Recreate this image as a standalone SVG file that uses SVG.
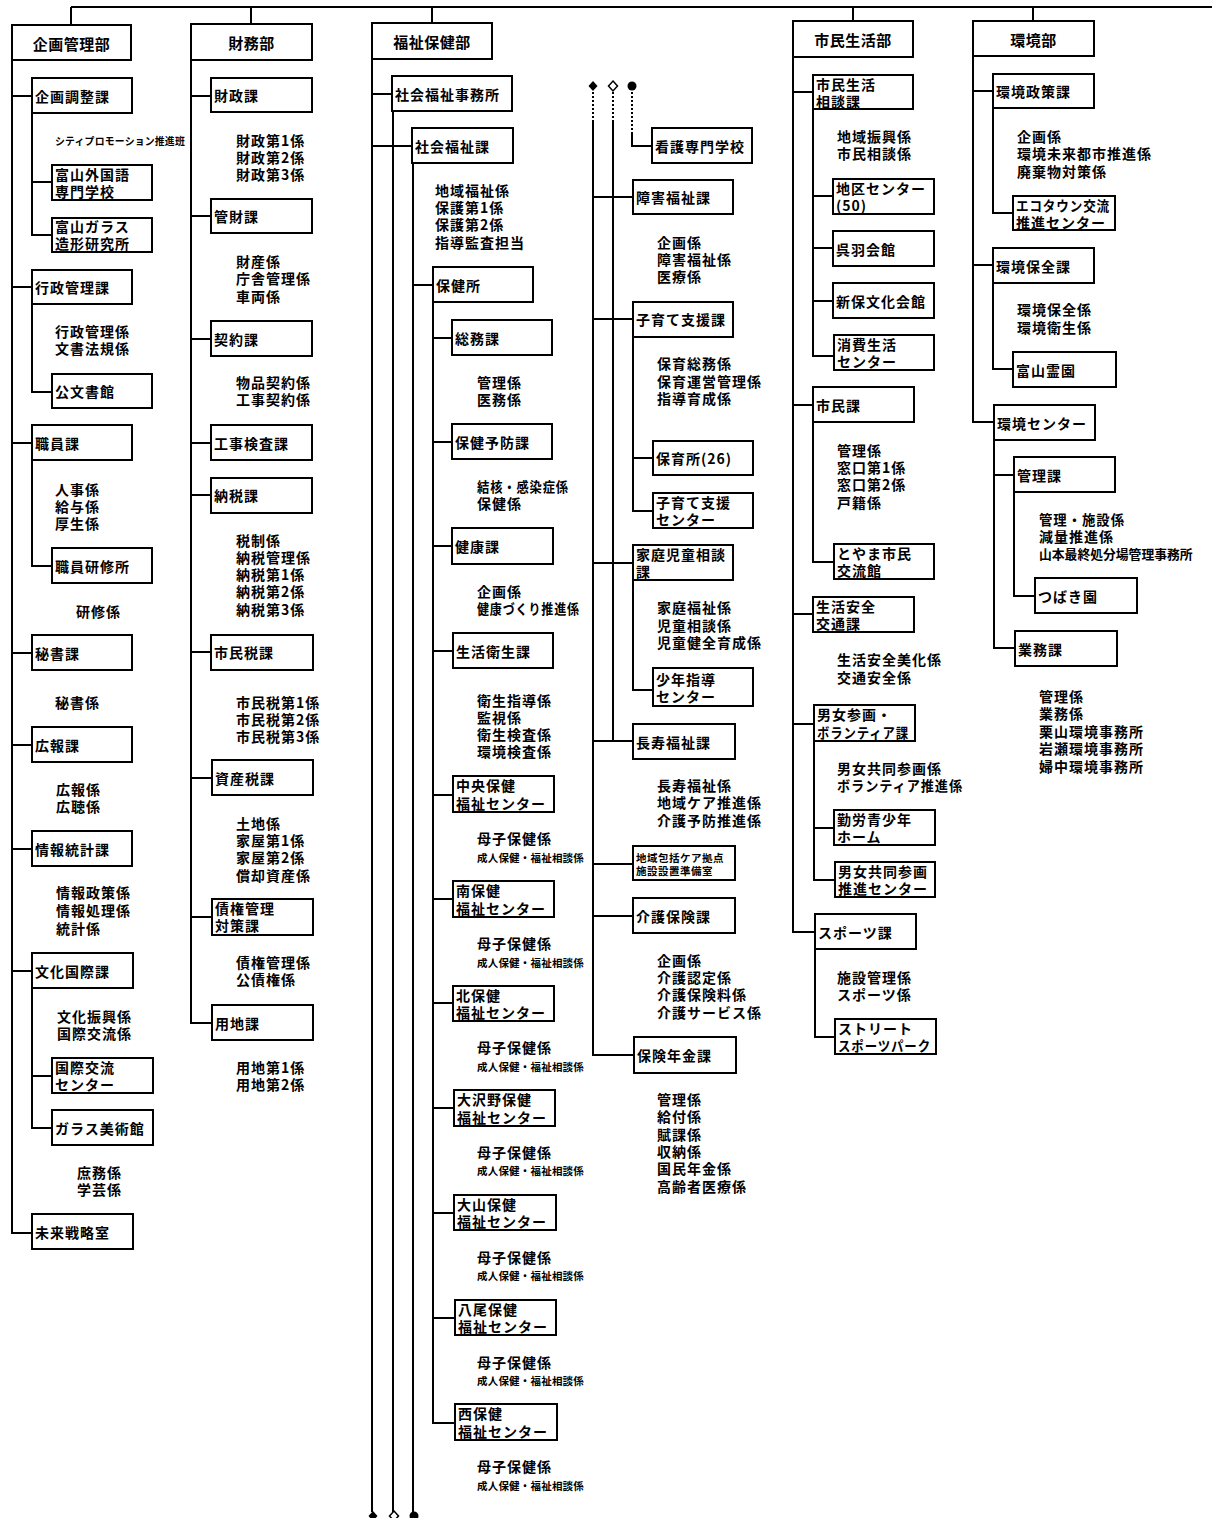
<svg xmlns="http://www.w3.org/2000/svg" width="1212" height="1518" viewBox="0 0 1212 1518">
<style>
.b{fill:#fff;stroke:#000;stroke-width:2}
.c{fill:none;stroke:#000;stroke-width:2}
.d{fill:none;stroke:#000;stroke-width:2;stroke-dasharray:2 2}
text{font-family:"Noto Sans CJK JP","Noto Sans CJK SC",sans-serif;font-weight:bold;font-size:14px;letter-spacing:1px;fill:#000}
text,tspan{dominant-baseline:central}
.m{text-anchor:middle;font-size:15px;letter-spacing:0.5px}
.s{font-size:10.5px;letter-spacing:0.2px}
.k{font-size:10.5px;letter-spacing:0.5px}
.q{font-size:12.8px;letter-spacing:0}
</style>
<rect width="1212" height="1518" fill="#fff"/>
<g id="connectors">
<path class="c" d="M71,7 H1212 M71,7 V25 M251,7 V24 M432,7 V23 M853,7 V21 M1033,7 V21"/>
<path class="c" d="M12,60 V1233 H32 M12,96 H32 M12,287 H32 M12,443 H32 M12,653 H32 M12,745 H32 M12,849 H32 M12,971 H32 M32,113 V235 H52 M32,182 H52 M32,304 V392 H52 M32,460 V566 H52 M32,988 V1128 H52 M32,1076 H52"/>
<path class="c" d="M191,60 V1023 H212 M191,96 H211 M191,216 H211 M191,339 H211 M191,443 H211 M191,495 H211 M191,652 H211 M191,778 H212 M191,917 H212"/>
<path class="c" d="M372,59 V1512 M372,94 H392 M372,146 H412 M393,111 V1512 M413,163 V1512 M413,285 H433 M433,302 V1423 H455 M433,338 H452 M433,442 H452 M433,546 H452 M433,651 H453 M433,795 H453 M433,899 H453 M433,1003 H453 M433,1108 H454 M433,1213 H454 M433,1318 H455"/>
<path class="d" d="M593,92 V120 M613,92 V120 M632,92 V132"/>
<path class="c" d="M593,120 V1055 H634 M613,120 V741 M632,132 V146 H652 M593,197 H633 M593,319 H633 M593,563 H633 M593,741 H633 M593,864 H633 M593,916 H633 M633,337 V511 H653 M633,458 H653 M633,580 V690 H653"/>
<path class="c" d="M793,57 V932 H815 M793,92 H813 M793,405 H813 M793,614 H813 M793,724 H814 M813,109 V356 H834 M813,196 H833 M813,248 H833 M813,301 H833 M813,422 V562 H834 M814,741 V880 H835 M814,828 H834 M815,949 V1037 H835"/>
<path class="c" d="M973,56 V422 H994 M973,91 H993 M973,265 H993 M993,108 V213 H1013 M993,283 V369 H1013 M994,440 V648 H1015 M994,475 H1014 M1014,492 V596 H1035"/>
<polygon points="593,81 597.5,86 593,91 588.5,86" fill="#000"/>
<polygon points="613,81 617.5,86 613,91 608.5,86" fill="#fff" stroke="#000" stroke-width="1.5"/>
<circle cx="632" cy="86" r="4.5" fill="#000"/>
<polygon points="373,1511 377.5,1516 373,1521 368.5,1516" fill="#000"/>
<polygon points="394,1511 398.5,1516 394,1521 389.5,1516" fill="#fff" stroke="#000" stroke-width="1.5"/>
<circle cx="414" cy="1516" r="4.5" fill="#000"/>
</g>

<!-- 企画管理部 -->
<g id="kikaku-kanri"><rect class="b" x="12" y="25" width="119" height="35"/><text class="m" x="71.5" y="43">企画管理部</text></g>
<g id="kikaku-chosei"><rect class="b" x="32" y="78" width="100" height="35"/><text x="35" y="96">企画調整課</text><text class="s" x="55" y="140" textLength="130" lengthAdjust="spacingAndGlyphs">シティプロモーション推進班</text></g>
<g id="gaikokugo"><rect class="b" x="52" y="165" width="100" height="35"/><text><tspan x="55" y="174">富山外国語</tspan><tspan x="55" y="191">専門学校</tspan></text></g>
<g id="glass-kenkyu"><rect class="b" x="52" y="218" width="100" height="34"/><text><tspan x="55" y="226">富山ガラス</tspan><tspan x="55" y="243">造形研究所</tspan></text></g>
<g id="gyosei-kanri"><rect class="b" x="32" y="270" width="100" height="34"/><text x="35" y="287">行政管理課</text><text><tspan x="55" y="331">行政管理係</tspan><tspan x="55" y="348">文書法規係</tspan></text></g>
<g id="kobunshokan"><rect class="b" x="52" y="374" width="100" height="34"/><text x="55" y="391">公文書館</text></g>
<g id="shokuin"><rect class="b" x="32" y="425" width="100" height="35"/><text x="35" y="443">職員課</text><text><tspan x="55" y="489">人事係</tspan><tspan x="55" y="506">給与係</tspan><tspan x="55" y="523">厚生係</tspan></text></g>
<g id="kenshujo"><rect class="b" x="52" y="548" width="100" height="35"/><text x="55" y="566">職員研修所</text><text x="76" y="611">研修係</text></g>
<g id="hisho"><rect class="b" x="32" y="635" width="100" height="35"/><text x="35" y="653">秘書課</text><text x="55" y="702">秘書係</text></g>
<g id="koho"><rect class="b" x="32" y="727" width="100" height="35"/><text x="35" y="745">広報課</text><text><tspan x="56" y="789">広報係</tspan><tspan x="56" y="806">広聴係</tspan></text></g>
<g id="joho-tokei"><rect class="b" x="32" y="831" width="100" height="35"/><text x="35" y="849">情報統計課</text><text><tspan x="56" y="892">情報政策係</tspan><tspan x="56" y="910">情報処理係</tspan><tspan x="56" y="928">統計係</tspan></text></g>
<g id="bunka-kokusai"><rect class="b" x="32" y="953" width="101" height="35"/><text x="35" y="971">文化国際課</text><text><tspan x="57" y="1016">文化振興係</tspan><tspan x="57" y="1033">国際交流係</tspan></text></g>
<g id="kokusai-center"><rect class="b" x="52" y="1058" width="101" height="35"/><text><tspan x="55" y="1067">国際交流</tspan><tspan x="55" y="1084">センター</tspan></text></g>
<g id="glass-museum"><rect class="b" x="52" y="1110" width="101" height="35"/><text x="55" y="1128">ガラス美術館</text><text><tspan x="77" y="1172">庶務係</tspan><tspan x="77" y="1189">学芸係</tspan></text></g>
<g id="mirai-senryaku"><rect class="b" x="32" y="1214" width="101" height="35"/><text x="35" y="1232">未来戦略室</text></g>

<!-- 財務部 -->
<g id="zaimu"><rect class="b" x="191" y="24" width="121" height="36"/><text class="m" x="251.5" y="42">財務部</text></g>
<g id="zaisei"><rect class="b" x="211" y="78" width="101" height="34"/><text x="214" y="95">財政課</text><text><tspan x="236" y="140">財政第1係</tspan><tspan x="236" y="157">財政第2係</tspan><tspan x="236" y="174">財政第3係</tspan></text></g>
<g id="kanzai"><rect class="b" x="211" y="199" width="101" height="34"/><text x="214" y="216">管財課</text><text><tspan x="236" y="261">財産係</tspan><tspan x="236" y="278">庁舎管理係</tspan><tspan x="236" y="296">車両係</tspan></text></g>
<g id="keiyaku"><rect class="b" x="211" y="321" width="101" height="35"/><text x="214" y="339">契約課</text><text><tspan x="236" y="382">物品契約係</tspan><tspan x="236" y="399">工事契約係</tspan></text></g>
<g id="koji-kensa"><rect class="b" x="211" y="425" width="101" height="35"/><text x="214" y="443">工事検査課</text></g>
<g id="nozei"><rect class="b" x="211" y="478" width="101" height="35"/><text x="214" y="495">納税課</text><text><tspan x="236" y="540">税制係</tspan><tspan x="236" y="557">納税管理係</tspan><tspan x="236" y="574">納税第1係</tspan><tspan x="236" y="591">納税第2係</tspan><tspan x="236" y="609">納税第3係</tspan></text></g>
<g id="shiminzei"><rect class="b" x="211" y="635" width="102" height="35"/><text x="214" y="652">市民税課</text><text><tspan x="236" y="702">市民税第1係</tspan><tspan x="236" y="719">市民税第2係</tspan><tspan x="236" y="736">市民税第3係</tspan></text></g>
<g id="shisanzei"><rect class="b" x="212" y="760" width="101" height="35"/><text x="215" y="778">資産税課</text><text><tspan x="236" y="823">土地係</tspan><tspan x="236" y="840">家屋第1係</tspan><tspan x="236" y="857">家屋第2係</tspan><tspan x="236" y="875">償却資産係</tspan></text></g>
<g id="saiken"><rect class="b" x="212" y="899" width="101" height="36"/><text><tspan x="215" y="908">債権管理</tspan><tspan x="215" y="925">対策課</tspan></text><text><tspan x="236" y="962">債権管理係</tspan><tspan x="236" y="979">公債権係</tspan></text></g>
<g id="yochi"><rect class="b" x="212" y="1005" width="101" height="35"/><text x="215" y="1023">用地課</text><text><tspan x="236" y="1067">用地第1係</tspan><tspan x="236" y="1084">用地第2係</tspan></text></g>

<!-- 福祉保健部 -->
<g id="fukushi-hoken"><rect class="b" x="372" y="23" width="120" height="36"/><text class="m" x="432" y="41">福祉保健部</text></g>
<g id="shakai-jimusho"><rect class="b" x="392" y="76" width="120" height="35"/><text x="395" y="94">社会福祉事務所</text></g>
<g id="shakai-fukushi"><rect class="b" x="412" y="128" width="101" height="35"/><text x="415" y="146">社会福祉課</text><text><tspan x="435" y="190">地域福祉係</tspan><tspan x="435" y="207">保護第1係</tspan><tspan x="435" y="224">保護第2係</tspan><tspan x="435" y="242">指導監査担当</tspan></text></g>
<g id="hokenjo"><rect class="b" x="433" y="267" width="100" height="35"/><text x="436" y="285">保健所</text></g>
<g id="somu"><rect class="b" x="452" y="320" width="100" height="35"/><text x="455" y="338">総務課</text><text><tspan x="477" y="382">管理係</tspan><tspan x="477" y="399">医務係</tspan></text></g>
<g id="hoken-yobo"><rect class="b" x="452" y="424" width="100" height="35"/><text x="455" y="442">保健予防課</text><text><tspan x="477" y="486" textLength="92" lengthAdjust="spacingAndGlyphs">結核・感染症係</tspan><tspan x="477" y="503">保健係</tspan></text></g>
<g id="kenko"><rect class="b" x="452" y="528" width="101" height="36"/><text x="455" y="546">健康課</text><text><tspan x="477" y="591">企画係</tspan><tspan x="477" y="608" textLength="103" lengthAdjust="spacingAndGlyphs">健康づくり推進係</tspan></text></g>
<g id="seikatsu-eisei"><rect class="b" x="453" y="633" width="100" height="35"/><text x="456" y="651">生活衛生課</text><text><tspan x="477" y="700">衛生指導係</tspan><tspan x="477" y="717">監視係</tspan><tspan x="477" y="734">衛生検査係</tspan><tspan x="477" y="751">環境検査係</tspan></text></g>
<g id="chuo-center"><rect class="b" x="453" y="776" width="101" height="36"/><text><tspan x="456" y="785">中央保健</tspan><tspan x="456" y="803">福祉センター</tspan></text><text><tspan x="477" y="838">母子保健係</tspan><tspan class="s" x="477" y="857">成人保健・福祉相談係</tspan></text></g>
<g id="minami-center"><rect class="b" x="453" y="881" width="101" height="36"/><text><tspan x="456" y="890">南保健</tspan><tspan x="456" y="908">福祉センター</tspan></text><text><tspan x="477" y="943">母子保健係</tspan><tspan class="s" x="477" y="962">成人保健・福祉相談係</tspan></text></g>
<g id="kita-center"><rect class="b" x="453" y="986" width="101" height="35"/><text><tspan x="456" y="995">北保健</tspan><tspan x="456" y="1012">福祉センター</tspan></text><text><tspan x="477" y="1047">母子保健係</tspan><tspan class="s" x="477" y="1066">成人保健・福祉相談係</tspan></text></g>
<g id="osawano-center"><rect class="b" x="454" y="1090" width="101" height="36"/><text><tspan x="457" y="1099">大沢野保健</tspan><tspan x="457" y="1117">福祉センター</tspan></text><text><tspan x="477" y="1152">母子保健係</tspan><tspan class="s" x="477" y="1170">成人保健・福祉相談係</tspan></text></g>
<g id="oyama-center"><rect class="b" x="454" y="1195" width="102" height="35"/><text><tspan x="457" y="1204">大山保健</tspan><tspan x="457" y="1221">福祉センター</tspan></text><text><tspan x="477" y="1257">母子保健係</tspan><tspan class="s" x="477" y="1275">成人保健・福祉相談係</tspan></text></g>
<g id="yatsuo-center"><rect class="b" x="455" y="1300" width="101" height="35"/><text><tspan x="458" y="1309">八尾保健</tspan><tspan x="458" y="1326">福祉センター</tspan></text><text><tspan x="477" y="1362">母子保健係</tspan><tspan class="s" x="477" y="1380">成人保健・福祉相談係</tspan></text></g>
<g id="nishi-center"><rect class="b" x="455" y="1404" width="102" height="36"/><text><tspan x="458" y="1413">西保健</tspan><tspan x="458" y="1431">福祉センター</tspan></text><text><tspan x="477" y="1466">母子保健係</tspan><tspan class="s" x="477" y="1485">成人保健・福祉相談係</tspan></text></g>
<g id="kango"><rect class="b" x="652" y="128" width="100" height="35"/><text x="655" y="146">看護専門学校</text></g>
<g id="shogai"><rect class="b" x="633" y="180" width="100" height="34"/><text x="636" y="197">障害福祉課</text><text><tspan x="657" y="242">企画係</tspan><tspan x="657" y="259">障害福祉係</tspan><tspan x="657" y="276">医療係</tspan></text></g>
<g id="kosodate"><rect class="b" x="633" y="302" width="100" height="35"/><text x="636" y="319">子育て支援課</text><text><tspan x="657" y="363">保育総務係</tspan><tspan x="657" y="381">保育運営管理係</tspan><tspan x="657" y="398">指導育成係</tspan></text></g>
<g id="hoikusho"><rect class="b" x="653" y="441" width="100" height="34"/><text x="656" y="458">保育所(26)</text></g>
<g id="kosodate-center"><rect class="b" x="653" y="493" width="100" height="35"/><text><tspan x="656" y="502">子育て支援</tspan><tspan x="656" y="519">センター</tspan></text></g>
<g id="katei-jido"><rect class="b" x="633" y="545" width="100" height="35"/><text><tspan x="636" y="554">家庭児童相談</tspan><tspan x="636" y="571">課</tspan></text><text><tspan x="657" y="607">家庭福祉係</tspan><tspan x="657" y="625">児童相談係</tspan><tspan x="657" y="642">児童健全育成係</tspan></text></g>
<g id="shonen-center"><rect class="b" x="653" y="668" width="100" height="38"/><text><tspan x="656" y="679">少年指導</tspan><tspan x="656" y="696">センター</tspan></text></g>
<g id="choju"><rect class="b" x="633" y="724" width="102" height="35"/><text x="636" y="742">長寿福祉課</text><text><tspan x="657" y="785">長寿福祉係</tspan><tspan x="657" y="802">地域ケア推進係</tspan><tspan x="657" y="820">介護予防推進係</tspan></text></g>
<g id="chiiki-houkatsu"><rect class="b" x="633" y="846" width="102" height="34"/><text class="k"><tspan x="636" y="857">地域包括ケア拠点</tspan><tspan x="636" y="870">施設設置準備室</tspan></text></g>
<g id="kaigo"><rect class="b" x="633" y="898" width="102" height="35"/><text x="636" y="916">介護保険課</text><text><tspan x="657" y="960">企画係</tspan><tspan x="657" y="977">介護認定係</tspan><tspan x="657" y="994">介護保険料係</tspan><tspan x="657" y="1012">介護サービス係</tspan></text></g>
<g id="hoken-nenkin"><rect class="b" x="634" y="1037" width="102" height="36"/><text x="637" y="1055">保険年金課</text><text><tspan x="657" y="1099">管理係</tspan><tspan x="657" y="1116">給付係</tspan><tspan x="657" y="1134">賦課係</tspan><tspan x="657" y="1151">収納係</tspan><tspan x="657" y="1168">国民年金係</tspan><tspan x="657" y="1186">高齢者医療係</tspan></text></g>

<!-- 市民生活部 -->
<g id="shimin-seikatsu"><rect class="b" x="793" y="21" width="120" height="36"/><text class="m" x="853" y="39">市民生活部</text></g>
<g id="shimin-sodan"><rect class="b" x="813" y="75" width="100" height="34"/><text><tspan x="816" y="84">市民生活</tspan><tspan x="816" y="101">相談課</tspan></text><text><tspan x="837" y="136">地域振興係</tspan><tspan x="837" y="153">市民相談係</tspan></text></g>
<g id="chiku-center"><rect class="b" x="833" y="179" width="101" height="35"/><text><tspan x="836" y="188">地区センター</tspan><tspan x="836" y="205">(50)</tspan></text></g>
<g id="kureha"><rect class="b" x="833" y="231" width="101" height="35"/><text x="836" y="249">呉羽会館</text></g>
<g id="shinbo"><rect class="b" x="833" y="283" width="101" height="35"/><text x="836" y="301">新保文化会館</text></g>
<g id="shohi"><rect class="b" x="834" y="335" width="100" height="35"/><text><tspan x="837" y="344">消費生活</tspan><tspan x="837" y="361">センター</tspan></text></g>
<g id="shimin"><rect class="b" x="813" y="387" width="101" height="35"/><text x="816" y="405">市民課</text><text><tspan x="837" y="450">管理係</tspan><tspan x="837" y="467">窓口第1係</tspan><tspan x="837" y="484">窓口第2係</tspan><tspan x="837" y="502">戸籍係</tspan></text></g>
<g id="koryukan"><rect class="b" x="834" y="544" width="100" height="35"/><text><tspan x="837" y="553">とやま市民</tspan><tspan x="837" y="570">交流館</tspan></text></g>
<g id="seikatsu-anzen"><rect class="b" x="813" y="597" width="101" height="35"/><text><tspan x="816" y="606">生活安全</tspan><tspan x="816" y="623">交通課</tspan></text><text><tspan x="837" y="659">生活安全美化係</tspan><tspan x="837" y="677">交通安全係</tspan></text></g>
<g id="danjo"><rect class="b" x="814" y="705" width="101" height="36"/><text><tspan x="817" y="714">男女参画・</tspan><tspan x="817" y="732" textLength="92" lengthAdjust="spacingAndGlyphs">ボランティア課</tspan></text><text><tspan x="837" y="768">男女共同参画係</tspan><tspan x="837" y="785" textLength="126" lengthAdjust="spacingAndGlyphs">ボランティア推進係</tspan></text></g>
<g id="kinro"><rect class="b" x="834" y="810" width="101" height="35"/><text><tspan x="837" y="819">勤労青少年</tspan><tspan x="837" y="836">ホーム</tspan></text></g>
<g id="danjo-center"><rect class="b" x="835" y="862" width="100" height="35"/><text><tspan x="838" y="871">男女共同参画</tspan><tspan x="838" y="888">推進センター</tspan></text></g>
<g id="sports"><rect class="b" x="815" y="914" width="101" height="35"/><text x="818" y="932">スポーツ課</text><text><tspan x="837" y="977">施設管理係</tspan><tspan x="837" y="994">スポーツ係</tspan></text></g>
<g id="street-park"><rect class="b" x="835" y="1019" width="101" height="35"/><text><tspan x="838" y="1028">ストリート</tspan><tspan x="838" y="1045" textLength="93" lengthAdjust="spacingAndGlyphs">スポーツパーク</tspan></text></g>

<!-- 環境部 -->
<g id="kankyo"><rect class="b" x="973" y="21" width="121" height="35"/><text class="m" x="1033.5" y="39">環境部</text></g>
<g id="kankyo-seisaku"><rect class="b" x="993" y="74" width="101" height="34"/><text x="996" y="91">環境政策課</text><text><tspan x="1017" y="136">企画係</tspan><tspan x="1017" y="153">環境未来都市推進係</tspan><tspan x="1017" y="171">廃棄物対策係</tspan></text></g>
<g id="ecotown"><rect class="b" x="1013" y="196" width="102" height="34"/><text><tspan x="1016" y="205" textLength="94" lengthAdjust="spacingAndGlyphs">エコタウン交流</tspan><tspan x="1016" y="222">推進センター</tspan></text></g>
<g id="kankyo-hozen"><rect class="b" x="993" y="248" width="101" height="35"/><text x="996" y="266">環境保全課</text><text><tspan x="1017" y="309">環境保全係</tspan><tspan x="1017" y="327">環境衛生係</tspan></text></g>
<g id="reien"><rect class="b" x="1013" y="352" width="103" height="35"/><text x="1016" y="370">富山霊園</text></g>
<g id="kankyo-center"><rect class="b" x="994" y="405" width="101" height="35"/><text x="997" y="423">環境センター</text></g>
<g id="kanri"><rect class="b" x="1014" y="457" width="101" height="35"/><text x="1017" y="475">管理課</text><text><tspan x="1039" y="519" textLength="86" lengthAdjust="spacingAndGlyphs">管理・施設係</tspan><tspan x="1039" y="536">減量推進係</tspan><tspan class="q" x="1039" y="553">山本最終処分場管理事務所</tspan></text></g>
<g id="tsubakien"><rect class="b" x="1035" y="578" width="102" height="35"/><text x="1038" y="596">つばき園</text></g>
<g id="gyomu"><rect class="b" x="1015" y="631" width="102" height="35"/><text x="1018" y="649">業務課</text><text><tspan x="1039" y="696">管理係</tspan><tspan x="1039" y="713">業務係</tspan><tspan x="1039" y="731">栗山環境事務所</tspan><tspan x="1039" y="748">岩瀬環境事務所</tspan><tspan x="1039" y="766">婦中環境事務所</tspan></text></g>
</svg>
